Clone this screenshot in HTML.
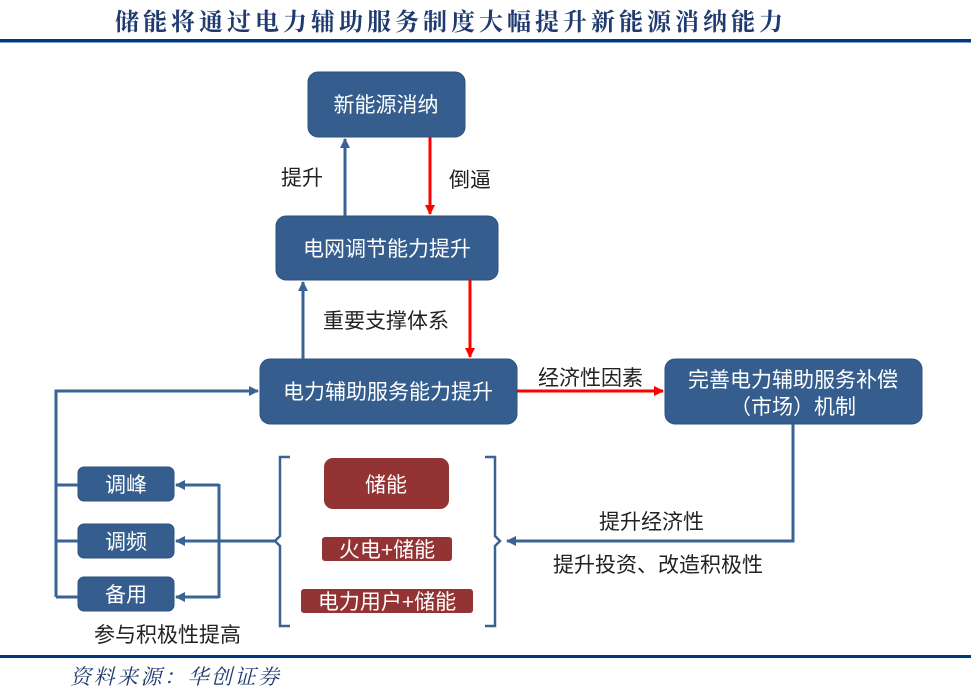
<!DOCTYPE html>
<html><head><meta charset="utf-8"><style>
html,body{margin:0;padding:0;background:#fff;}
svg{display:block;}
text{font-family:"Liberation Sans","Noto Sans CJK SC",sans-serif;}
</style></head><body>
<svg width="971" height="691" viewBox="0 0 971 691" xmlns="http://www.w3.org/2000/svg">
<defs>
<marker id="ab" markerWidth="10" markerHeight="10" refX="9" refY="5" orient="auto" markerUnits="userSpaceOnUse"><path d="M0,0 L10,5 L0,10 z" fill="#3a6394"/></marker>
<marker id="ar" markerWidth="10" markerHeight="10" refX="9" refY="5" orient="auto" markerUnits="userSpaceOnUse"><path d="M0,0 L10,5 L0,10 z" fill="#ff0000"/></marker>
</defs>
<text x="115" y="30" font-size="24" font-weight="bold" fill="#1f3a6e" style="font-family:'Noto Serif CJK SC','Noto Sans CJK SC',serif" letter-spacing="4">储能将通过电力辅助服务制度大幅提升新能源消纳能力</text>
<rect x="0" y="39" width="971" height="3.5" fill="#003a80"/>

<g fill="#355e8e" stroke="#2d527e" stroke-width="1">
<rect x="308" y="72" width="157" height="65" rx="10"/>
<rect x="276" y="216" width="222" height="64" rx="10"/>
<rect x="260" y="359" width="257" height="65" rx="10"/>
<rect x="665" y="359" width="257" height="65" rx="10"/>
<rect x="78" y="467" width="96" height="34" rx="6"/>
<rect x="78" y="524" width="96" height="34" rx="6"/>
<rect x="78" y="577" width="96" height="34" rx="6"/>
</g>
<g fill="#943333">
<rect x="324" y="458" width="125" height="51" rx="9"/>
<rect x="322" y="537" width="130" height="24" rx="3"/>
<rect x="301" y="589" width="172" height="24" rx="3"/>
</g>

<g fill="#fff" font-size="21" text-anchor="middle">
<text x="386" y="112">新能源消纳</text>
<text x="387" y="256">电网调节能力提升</text>
<text x="388" y="399">电力辅助服务能力提升</text>
<text x="793" y="387">完善电力辅助服务补偿</text>
<text x="793" y="414">（市场）机制</text>
<text x="126" y="492">调峰</text>
<text x="126" y="549">调频</text>
<text x="126" y="602">备用</text>
<text x="386" y="492">储能</text>
<text x="387" y="557">火电+储能</text>
<text x="387" y="609">电力用户+储能</text>
</g>

<g stroke="#3a6394" stroke-width="3" fill="none">
<line x1="345" y1="216" x2="345" y2="139" marker-end="url(#ab)"/>
<line x1="303" y1="359" x2="303" y2="282" marker-end="url(#ab)"/>
<polyline points="793,424 793,541 507,541" marker-end="url(#ab)"/>
<polyline points="56,597 56,391 258,391" marker-end="url(#ab)"/>
<line x1="56" y1="485" x2="78" y2="485"/>
<line x1="56" y1="541" x2="78" y2="541"/>
<line x1="56" y1="597" x2="78" y2="597"/>
<line x1="275" y1="541" x2="176" y2="541" marker-end="url(#ab)"/>
<line x1="219" y1="484" x2="219" y2="598"/>
<line x1="219" y1="485" x2="176" y2="485" marker-end="url(#ab)"/>
<line x1="219" y1="597" x2="176" y2="597" marker-end="url(#ab)"/>
<path d="M290,457 L280,457 L280,536 L275,541 L280,546 L280,626 L290,626" stroke-width="2.5"/>
<path d="M485,457 L495,457 L495,536 L500,541 L495,546 L495,626 L485,626" stroke-width="2.5"/>
</g>
<g stroke="#ff0000" stroke-width="3" fill="none">
<line x1="430" y1="137" x2="430" y2="214" marker-end="url(#ar)"/>
<line x1="470" y1="280" x2="470" y2="357" marker-end="url(#ar)"/>
<line x1="517" y1="391" x2="663" y2="391" marker-end="url(#ar)"/>
</g>

<g fill="#222" font-size="21">
<text x="281" y="185">提升</text>
<text x="449" y="187">倒逼</text>
<text x="323" y="328">重要支撑体系</text>
<text x="538" y="385">经济性因素</text>
<text x="599" y="529">提升经济性</text>
<text x="553" y="572">提升投资、改造积极性</text>
<text x="94" y="642">参与积极性提高</text>
</g>

<rect x="0" y="655" width="971" height="3" fill="#003a80"/>
<text x="70" y="684" font-size="21" font-style="italic" fill="#1f3a6e" letter-spacing="2.5" style="font-family:'Noto Serif CJK SC','Noto Sans CJK SC',serif">资料来源：华创证券</text>
</svg>
</body></html>
